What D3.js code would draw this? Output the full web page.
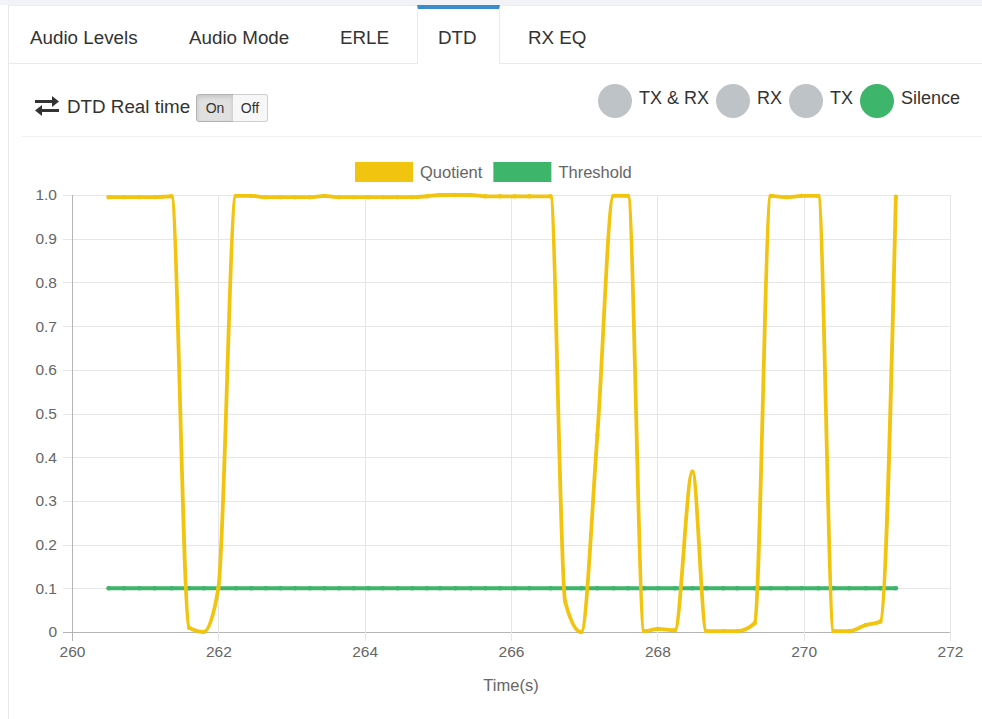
<!DOCTYPE html>
<html>
<head>
<meta charset="utf-8">
<script src="https://cdn.jsdelivr.net/npm/d3@7"></script>
<style>
    body { margin: 0; background: #fff; font-family: "Liberation Sans", Arial, sans-serif; color: #333; }
    #page { position: relative; width: 982px; height: 719px; overflow: hidden; background: #fff; }
    .top-band { position: absolute; left: 0; top: 0; width: 982px; height: 5px; background: #f1f3f6; }
    .panel-border { position: absolute; left: 8px; top: 5px; width: 980px; height: 720px; border-left: 1px solid #e9e9e9; border-top: 1px solid #eceef1; }
    .tab-line { position: absolute; top: 63px; height: 1px; background: #ebebeb; }
    .tab-active { position: absolute; left: 417px; top: 5px; width: 81px; height: 55px; border-top: 4px solid #3a8dc9; border-left: 1px solid #ebebeb; border-right: 1px solid #ebebeb; background: #fff; }
    .tab { position: absolute; top: 27px; font-size: 18.8px; line-height: 22px; white-space: nowrap; color: #333; }
    .toolbar-text { position: absolute; left: 67px; top: 96px; font-size: 18.8px; line-height: 22px; white-space: nowrap; }
    .btn { position: absolute; top: 94px; height: 26px; font-size: 14px; line-height: 26px; text-align: center; box-sizing: content-box; }
    .btn-on { left: 196px; width: 36px; background: #e0e0e0; border: 1px solid #b3b3b3; border-radius: 3px 0 0 3px; box-shadow: inset 0 2px 4px rgba(0,0,0,0.13); }
    .btn-off { left: 233px; width: 34px; background: #f7f7f7; border: 1px solid #cfcfcf; border-left: none; border-radius: 0 3px 3px 0; }
    #status { position: absolute; right: 22px; top: 84px; height: 34px; display: flex; align-items: center; }
    .status-item { display: flex; align-items: center; margin-left: 7px; }
    .status-dot { width: 34px; height: 34px; border-radius: 50%; margin-right: 7px; }
    .status-label { font-size: 18px; line-height: 22px; margin-top: -6px; white-space: nowrap; }
    .separator { position: absolute; left: 22px; top: 136px; width: 960px; height: 1px; background: #f0f0f0; }
    #chart { position: absolute; left: 0; top: 0; }
    #chart text { font-family: "Liberation Sans", Arial, sans-serif; fill: #666; }
</style>
</head>
<body>
<div id="page">
    <div class="top-band"></div>
    <div class="panel-border"></div>
    <div class="tab-line" style="left:9px;width:408px"></div>
    <div class="tab-line" style="left:499px;width:483px"></div>
    <div class="tab-active"></div>
    <div id="tabs"></div>
    <svg style="position:absolute;left:33px;top:95px" width="28" height="22" viewBox="0 0 28 22">
        <path d="M2 6.5 H20" stroke="#333" stroke-width="3" fill="none"/>
        <path d="M19 1 L26 6.5 L19 12 Z" fill="#333"/>
        <path d="M8 15.5 H26" stroke="#333" stroke-width="3" fill="none"/>
        <path d="M9 10 L2 15.5 L9 21 Z" fill="#333"/>
    </svg>
    <div class="toolbar-text">DTD Real time</div>
    <div class="btn btn-on">On</div>
    <div class="btn btn-off">Off</div>
    <div id="status"></div>
    <div class="separator"></div>
    <svg id="chart" width="982" height="719"></svg>
</div>
<script>
// Tabs and status indicators
const tabNames = ["Audio Levels", "Audio Mode", "ERLE", "DTD", "RX EQ"];
const tabLeft = [30, 189, 340, 438, 528];

const statusLabels = ["TX & RX", "RX", "TX", "Silence"];
const statusColors = ["#bdc3c7", "#bdc3c7", "#bdc3c7", "#3db56a"];

// DTD data: time (s) and quotient value
const times = [
    260.50, 260.71, 260.92, 261.13, 261.36, 261.60, 261.80, 262.00, 262.24, 262.45,
    262.65, 262.85, 263.05, 263.25, 263.45, 263.65, 263.85, 264.05, 264.25, 264.45,
    264.65, 264.85, 265.03, 265.24, 265.45, 265.65, 265.85, 266.05, 266.25, 266.54,
    266.74, 266.96, 267.18, 267.40, 267.60, 267.82, 268.01, 268.24, 268.48, 268.67,
    268.90, 269.09, 269.33, 269.55, 269.77, 269.97, 270.20, 270.41, 270.62, 270.85,
    271.05, 271.26
];
const quotient = [
    0.995, 0.995, 0.995, 0.995, 0.997, 0.010, 0.000, 0.100, 0.998, 0.998,
    0.995, 0.995, 0.995, 0.995, 0.998, 0.995, 0.995, 0.995, 0.995, 0.995,
    0.995, 0.997, 1.000, 1.000, 1.000, 0.997, 0.997, 0.997, 0.997, 0.997,
    0.070, 0.000, 0.450, 0.998, 0.998, 0.002, 0.007, 0.004, 0.367, 0.002,
    0.002, 0.002, 0.020, 0.998, 0.995, 0.998, 0.998, 0.002, 0.002, 0.016,
    0.024, 0.996
];
const threshold = [
    0.1, 0.1, 0.1, 0.1, 0.1, 0.1, 0.1, 0.1, 0.1, 0.1,
    0.1, 0.1, 0.1, 0.1, 0.1, 0.1, 0.1, 0.1, 0.1, 0.1,
    0.1, 0.1, 0.1, 0.1, 0.1, 0.1, 0.1, 0.1, 0.1, 0.1,
    0.1, 0.1, 0.1, 0.1, 0.1, 0.1, 0.1, 0.1, 0.1, 0.1,
    0.1, 0.1, 0.1, 0.1, 0.1, 0.1, 0.1, 0.1, 0.1, 0.1,
    0.1, 0.1
];

const seriesNames = ["Quotient", "Threshold"];
const seriesColors = ["#f1c40f", "#3db56a"];
const xTicks = [260, 262, 264, 266, 268, 270, 272];
const yTicks = [0, 0.1, 0.2, 0.3, 0.4, 0.5, 0.6, 0.7, 0.8, 0.9, 1.0];
const yTickLabels = ["0", "0.1", "0.2", "0.3", "0.4", "0.5", "0.6", "0.7", "0.8", "0.9", "1.0"];
const xAxisTitle = "Time(s)";

d3.select("#tabs").selectAll("div.tab")
    .data(tabNames)
    .join("div")
    .attr("class", "tab")
    .style("left", (d, i) => `${tabLeft[i]}px`)
    .text(d => d);

const statusItems = d3.select("#status").selectAll("div.status-item")
    .data(statusLabels)
    .join("div")
    .attr("class", "status-item");
statusItems.append("span").attr("class", "status-dot").style("background", (d, i) => statusColors[i]);
statusItems.append("span").attr("class", "status-label").text(d => d);

// Chart
const margin = { top: 195, left: 72, right: 32, bottom: 87 };
const svg = d3.select("#chart");
const width = 982 - margin.left - margin.right;
const height = 719 - margin.top - margin.bottom;

const root = svg.append("g").attr("transform", `translate(${margin.left},${margin.top})`);

const x = d3.scaleLinear().domain([260, 272]).range([0, width]);
const y = d3.scaleLinear().domain([0, 1]).range([height, 0]);
const snap = v => Math.round(v) + 0.5;

// gridlines
root.append("g")
    .selectAll("line.hgrid")
    .data(yTicks)
    .join("line")
    .attr("x1", -9).attr("x2", width)
    .attr("y1", d => snap(y(d))).attr("y2", d => snap(y(d)))
    .attr("stroke", d => d === 0 ? "#b5b5b5" : "#e6e6e6");

root.append("g")
    .selectAll("line.vgrid")
    .data(xTicks)
    .join("line")
    .attr("x1", d => snap(x(d))).attr("x2", d => snap(x(d)))
    .attr("y1", 0).attr("y2", height + 9)
    .attr("stroke", d => d === 260 ? "#b5b5b5" : "#e6e6e6");

// axis labels
const yAxis = root.append("g")
    .call(d3.axisLeft(y).tickValues(yTicks).tickSize(0).tickPadding(15)
        .tickFormat((d, i) => yTickLabels[i]));
yAxis.select(".domain").remove();
yAxis.selectAll("text").style("font-size", "15.5px").attr("fill", "#666");

const xAxis = root.append("g")
    .attr("transform", `translate(0,${height})`)
    .call(d3.axisBottom(x).tickValues(xTicks).tickSize(0).tickPadding(14).tickFormat(d3.format("d")));
xAxis.select(".domain").remove();
xAxis.selectAll("text").style("font-size", "15.5px").attr("fill", "#666");

root.append("text")
    .attr("x", width / 2)
    .attr("y", height + 59)
    .attr("text-anchor", "middle")
    .style("font-size", "16.5px")
    .text(xAxisTitle);

// series
const seriesData = [quotient, threshold];
const line = d3.line()
    .x((d, i) => x(times[i]))
    .y(d => y(d))
    .curve(d3.curveMonotoneX);

const seriesGroups = root.selectAll("g.series")
    .data(seriesData.slice().reverse())
    .join("g")
    .attr("class", "series");

seriesGroups.append("path")
    .attr("d", d => line(d))
    .attr("fill", "none")
    .attr("stroke", (d, i) => seriesColors[1 - i])
    .attr("stroke-width", (d, i) => i === 0 ? 4 : 3.8)
    .attr("stroke-linejoin", "round")
    .attr("stroke-linecap", "round");

seriesGroups.selectAll("circle")
    .data((d, i) => d.map((v, j) => ({ v, t: times[j], c: seriesColors[1 - i] })))
    .join("circle")
    .attr("cx", d => x(d.t))
    .attr("cy", d => y(d.v))
    .attr("r", 2.2)
    .attr("fill", d => d.c);

// legend
const legend = svg.append("g").attr("transform", "translate(355,162)");
let legendX = 0;
seriesNames.forEach((name, i) => {
    const item = legend.append("g").attr("transform", `translate(${legendX},0)`);
    item.append("rect")
        .attr("width", 58).attr("height", 20)
        .attr("fill", seriesColors[i]);
    const label = item.append("text")
        .attr("x", 65).attr("y", 10)
        .attr("dy", "0.35em")
        .style("font-size", "16.5px")
        .text(name);
    legendX += 65 + label.node().getComputedTextLength() + 11;
});
</script>
</body>
</html>
